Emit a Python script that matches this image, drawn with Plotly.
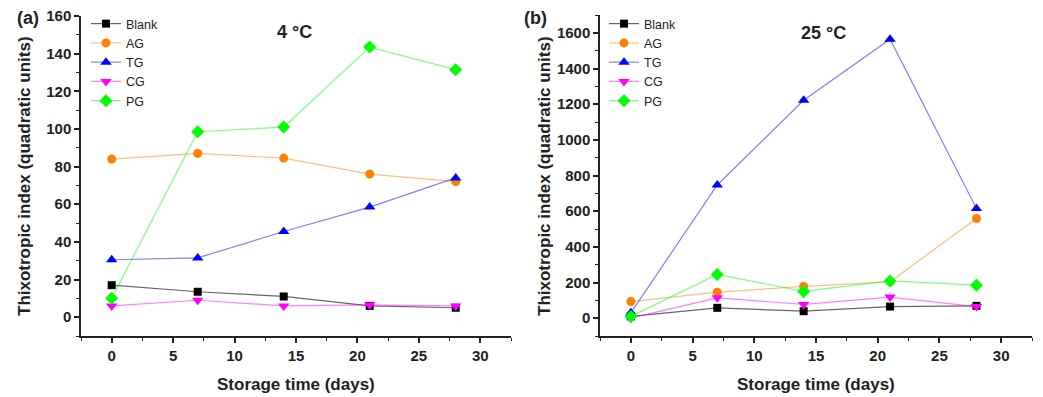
import plotly.graph_objects as go

days = [0, 7, 14, 21, 28]
series_names = ["Blank", "AG", "TG", "CG", "PG"]

# Panel (a) 4 °C
a_blank = [17, 13.5, 11, 6, 5]
a_ag = [84, 87, 84.5, 76, 72]
a_tg = [30.5, 31.5, 45.5, 58.5, 74]
a_cg = [6, 9, 6, 6.5, 6]
a_pg = [10, 98.5, 101, 143.5, 131.5]

# Panel (b) 25 °C
b_blank = [10, 58, 39, 65, 69]
b_ag = [93, 146, 178, 204, 559]
b_tg = [30, 747, 1222, 1564, 615]
b_cg = [0, 114, 77, 118, 65]
b_pg = [10, 245, 150, 209, 185]

marker_colors = ["#000000", "#FF8000", "#0000FF", "#FF00FF", "#00FF00"]
line_colors = ["rgba(0,0,0,0.6)", "rgba(255,128,0,0.5)", "rgba(0,0,255,0.5)",
               "rgba(255,0,255,0.5)", "rgba(0,255,0,0.5)"]
symbols = ["square", "circle", "triangle-up", "triangle-down", "diamond"]
sizes = [8, 9, 10, 10, 10]

W, H = 1043, 397
FONT = "Liberation Sans, Arial, sans-serif"

fig = go.Figure()

for data, xa, ya, leg in [([a_blank, a_ag, a_tg, a_cg, a_pg], "x", "y", "legend"),
                          ([b_blank, b_ag, b_tg, b_cg, b_pg], "x2", "y2", "legend2")]:
    for i, name in enumerate(series_names):
        fig.add_trace(go.Scatter(
            x=days, y=data[i], name=name, mode="lines+markers",
            xaxis=xa, yaxis=ya, legend=leg,
            line=dict(color=line_colors[i], width=1.2),
            marker=dict(color=marker_colors[i], symbol=symbols[i], size=sizes[i]),
        ))

def px_x(p):
    return p / W

def px_y(p):
    return 1 - p / H

axis_common = dict(
    showline=True, linecolor="#222", linewidth=1.5,
    ticks="outside", ticklen=5, tickwidth=1.5, tickcolor="#222",
    showgrid=False, zeroline=False, mirror=False, automargin=False,
    tickfont=dict(family=FONT, size=15, color="#222", weight="bold"),
)

legend_font = dict(family=FONT, size=12.5, color="#222")

fig.update_layout(
    template="none",
    width=W, height=H,
    margin=dict(l=0, r=0, t=0, b=0, pad=0),
    paper_bgcolor="white", plot_bgcolor="white",
    font=dict(family=FONT, color="#222"),
    xaxis=dict(domain=[px_x(81), px_x(511)], range=[-2.5, 32.5], dtick=5, tick0=0,
               minor=dict(ticks="outside", ticklen=3, dtick=2.5, tickcolor="#222", tickwidth=1.2),
               anchor="y", **axis_common),
    yaxis=dict(domain=[px_y(336), px_y(16)], range=[-10, 160], dtick=20, tick0=0,
               minor=dict(ticks="outside", ticklen=3, dtick=10, tickcolor="#222", tickwidth=1.2),
               anchor="x", **axis_common),
    xaxis2=dict(domain=[px_x(600), px_x(1032)], range=[-2.5, 32.5], dtick=5, tick0=0,
                minor=dict(ticks="outside", ticklen=3, dtick=2.5, tickcolor="#222", tickwidth=1.2),
                anchor="y2", **axis_common),
    yaxis2=dict(domain=[px_y(336), px_y(15)], range=[-100, 1700], dtick=200, tick0=0,
                minor=dict(ticks="outside", ticklen=3, dtick=100, tickcolor="#222", tickwidth=1.2),
                anchor="x2", **axis_common),
    legend=dict(x=px_x(86), y=px_y(9), xanchor="left", yanchor="top",
                bgcolor="rgba(0,0,0,0)", font=legend_font,
                itemwidth=30, tracegroupgap=0),
    legend2=dict(x=px_x(604), y=px_y(9), xanchor="left", yanchor="top",
                 bgcolor="rgba(0,0,0,0)", font=legend_font,
                 itemwidth=30, tracegroupgap=0),
)

title_font = dict(family=FONT, size=17, color="#222", weight="bold")
big_font = dict(family=FONT, size=18, color="#222", weight="bold")
ann = [
    dict(text="(a)", x=px_x(28), y=px_y(18), font=big_font),
    dict(text="(b)", x=px_x(535), y=px_y(18), font=big_font),
    dict(text="4 °C", x=px_x(294), y=px_y(32), font=big_font),
    dict(text="25 °C", x=px_x(823), y=px_y(33), font=big_font),
    dict(text="Storage time (days)", x=px_x(296), y=px_y(384), font=title_font),
    dict(text="Storage time (days)", x=px_x(816), y=px_y(384), font=title_font),
    dict(text="Thixotropic index (quadratic units)", x=px_x(24), y=px_y(176), textangle=-90, font=title_font),
    dict(text="Thixotropic index (quadratic units)", x=px_x(544), y=px_y(176), textangle=-90, font=title_font),
]
for a in ann:
    a.update(xref="paper", yref="paper", showarrow=False, xanchor="center", yanchor="middle")
    fig.add_annotation(**a)

fig.write_html("out.html", config={"displayModeBar": False},
               post_script="document.body.style.margin='0';")
